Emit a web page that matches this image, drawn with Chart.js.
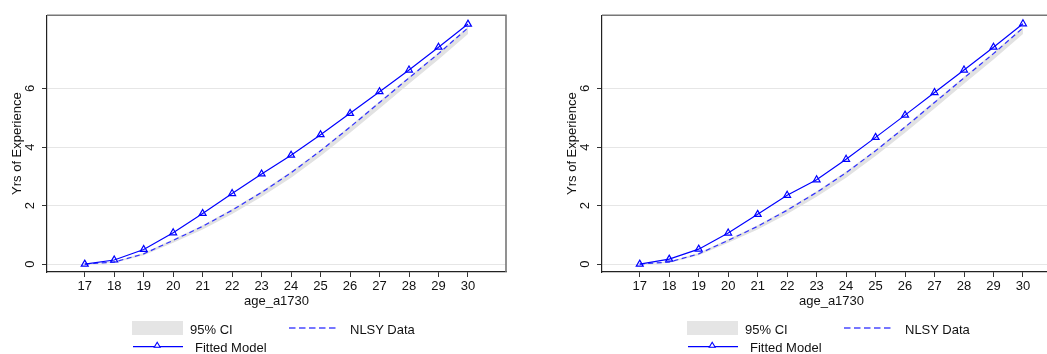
<!DOCTYPE html>
<html><head><meta charset="utf-8">
<script src="https://cdn.jsdelivr.net/npm/chart.js@4/dist/chart.umd.min.js"></script>
<style>
html,body{margin:0;padding:0;background:#fff;width:1047px;height:354px;overflow:hidden;position:relative;}
canvas{position:absolute;top:0;}
.lg{position:absolute;font-family:'Liberation Sans',Arial,sans-serif;font-size:13px;color:#111;line-height:15px;white-space:nowrap;}
svg{position:absolute;overflow:visible;}
</style></head><body>
<script>
// ---- data ----
const ages = [17, 18, 19, 20, 21, 22, 23, 24, 25, 26, 27, 28, 29, 30];
const yTicks = [0, 2, 4, 6];
const nlsyData = [0, 0.07, 0.35, 0.81, 1.29, 1.84, 2.45, 3.12, 3.87, 4.68, 5.52, 6.36, 7.19, 8.07];
const ciUpper  = [0.01, 0.09, 0.38, 0.85, 1.33, 1.88, 2.49, 3.16, 3.91, 4.72, 5.56, 6.40, 7.23, 8.11];
const ciLower  = [0, 0.04, 0.30, 0.73, 1.18, 1.71, 2.30, 2.95, 3.69, 4.49, 5.32, 6.16, 6.99, 7.86];
const fittedLeft  = [0, 0.14, 0.50, 1.07, 1.73, 2.41, 3.08, 3.72, 4.42, 5.15, 5.89, 6.63, 7.41, 8.20];
const fittedRight = [0, 0.17, 0.51, 1.06, 1.70, 2.35, 2.88, 3.58, 4.33, 5.09, 5.86, 6.63, 7.41, 8.21];
const legendLabels = ['95% CI', 'NLSY Data', 'Fitted Model'];
const xTitle = 'age_a1730';
const yTitle = 'Yrs of Experience';

// ---- styling ----
const FONT = "'Liberation Sans', Arial, sans-serif";
Chart.defaults.font.family = FONT;
Chart.defaults.font.size = 13;
Chart.defaults.color = '#111';
const BLUE = '#0000ff';
const DASHBLUE = '#2f2fff';
const BAND = '#e2e2e2';

const frame = {
  id: 'frame',
  afterDatasetsDraw(chart) {
    const {ctx, chartArea: a} = chart;
    ctx.save();
    ctx.strokeStyle = '#777';
    ctx.lineWidth = 1.6;
    ctx.beginPath();
    ctx.moveTo(a.left, a.top);
    ctx.lineTo(a.right, a.top);
    ctx.lineTo(a.right, a.bottom);
    ctx.stroke();
    ctx.restore();
  }
};

function pts(arr) { return ages.map((a, i) => ({x: a, y: arr[i]})); }

function makePanel(offsetX, fitted) {
  const cv = document.createElement('canvas');
  cv.width = 530; cv.height = 354;
  cv.style.left = offsetX + 'px';
  cv.style.width = '530px'; cv.style.height = '354px';
  document.body.appendChild(cv);
  new Chart(cv.getContext('2d'), {
    type: 'line',
    data: {
      datasets: [
        {label: legendLabels[2], data: pts(fitted), borderColor: BLUE, borderWidth: 1.2,
         pointStyle: 'triangle', pointRadius: 4, pointBorderColor: BLUE, pointBorderWidth: 1.2,
         pointBackgroundColor: 'rgba(255,255,255,0)', tension: 0, fill: false},
        {label: legendLabels[1], data: pts(nlsyData), borderColor: DASHBLUE, borderWidth: 1.2,
         borderDash: [5, 3.5], pointRadius: 0, tension: 0, fill: false},
        {label: 'ciU', data: pts(ciUpper), borderWidth: 0, borderColor: 'rgba(0,0,0,0)', pointRadius: 0, tension: 0, fill: false},
        {label: legendLabels[0], data: pts(ciLower), borderWidth: 0, borderColor: 'rgba(0,0,0,0)', pointRadius: 0, tension: 0,
         fill: '-1', backgroundColor: BAND}
      ]
    },
    options: {
      responsive: false, animation: false, devicePixelRatio: 1,
      layout: {padding: {left: 0, top: 9, right: 24, bottom: 42}},
      plugins: {legend: {display: false}, tooltip: {enabled: false}},
      scales: {
        x: {
          type: 'linear', min: 15.72, max: 31.29,
          afterBuildTicks: s => { s.ticks = ages.map(v => ({value: v})); },
          afterFit: s => { s.height = 40; },
          ticks: {callback: v => String(v), padding: 1.5, maxRotation: 0, minRotation: 0, color: '#111'},
          grid: {drawOnChartArea: false, drawTicks: true, tickLength: 5, tickColor: '#333', lineWidth: 1},
          border: {color: '#222', width: 1.2},
          title: {display: true, text: xTitle, padding: {top: 0, bottom: 3}, color: '#111'}
        },
        y: {
          type: 'linear', min: -0.27, max: 8.5,
          afterBuildTicks: s => { s.ticks = yTicks.map(v => ({value: v})); },
          afterFit: s => { s.width = 47; },
          ticks: {callback: v => String(v), padding: 7.5, minRotation: 90, maxRotation: 90, crossAlign: 'center', color: '#111'},
          grid: {color: '#e6e6e6', lineWidth: 1, drawTicks: true, tickLength: 5, tickColor: '#333'},
          border: {color: '#222', width: 1.2},
          title: {display: true, text: yTitle, padding: {top: 9.5, bottom: 0}, color: '#111'}
        }
      }
    },
    plugins: [frame]
  });

  // legend (real text)
  const ns = 'http://www.w3.org/2000/svg';
  const svg = document.createElementNS(ns, 'svg');
  svg.setAttribute('width', '260'); svg.setAttribute('height', '39');
  svg.style.left = offsetX + 'px'; svg.style.top = '315px';
  svg.innerHTML =
    '<rect x="132" y="6" width="51" height="14" fill="#e5e5e5"/>' +
    '<line x1="289" y1="13" x2="338" y2="13" stroke="#4a4aff" stroke-width="1.4" stroke-dasharray="6.5 3.5"/>' +
    '<line x1="133" y1="31.7" x2="183" y2="31.7" stroke="#0000ff" stroke-width="1.3"/>' +
    '<polygon points="157.2,27.2 154.2,32.2 160.2,32.2" fill="#fff" stroke="#0000ff" stroke-width="1.1"/>';
  document.body.appendChild(svg);
  const pos = [[190, 321.5], [350, 322], [195, 339.5]];
  legendLabels.forEach((t, i) => {
    const d = document.createElement('div');
    d.className = 'lg';
    d.textContent = t;
    d.style.left = (offsetX + pos[i][0]) + 'px';
    d.style.top = pos[i][1] + 'px';
    document.body.appendChild(d);
  });
}

makePanel(0, fittedLeft);
makePanel(555, fittedRight);
</script>
</body></html>
